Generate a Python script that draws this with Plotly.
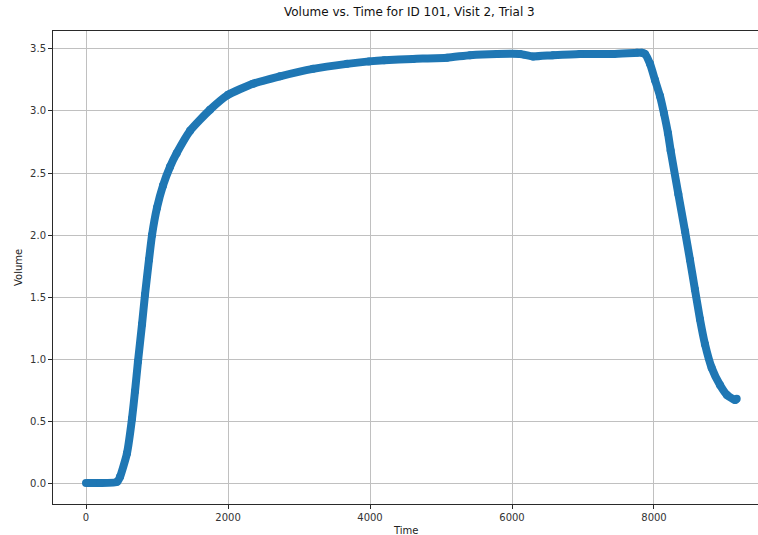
import plotly.graph_objects as go

# Sampled trial recording: time (ms) and volume
time_ms = [0, 200, 437, 479, 577, 648, 690, 732, 789, 831, 887, 930, 1000, 1085,
           1183, 1277, 1465, 1746, 2000, 2352, 2732, 3197, 3676, 3986, 4200, 4606,
           5085, 5408, 5789, 6113, 6296, 6577, 6958, 7423, 7761, 7826, 7873, 7944,
           8014, 8085, 8141, 8197, 8235, 8343, 8437, 8507, 8577, 8648, 8718, 8812,
           8930, 9028, 9141, 9165]
volume = [0.00, 0.00, 0.01, 0.05, 0.24, 0.52, 0.74, 0.98, 1.28, 1.52, 1.80, 2.00,
          2.22, 2.40, 2.55, 2.66, 2.84, 3.01, 3.13, 3.22, 3.28, 3.34, 3.38, 3.40,
          3.41, 3.42, 3.43, 3.45, 3.46, 3.46, 3.44, 3.45, 3.46, 3.46, 3.47, 3.47,
          3.46, 3.38, 3.25, 3.12, 2.98, 2.82, 2.68, 2.33, 2.03, 1.80, 1.56, 1.32,
          1.12, 0.93, 0.79, 0.71, 0.67, 0.68]

x_ticks = [0, 2000, 4000, 6000, 8000]
y_ticks = [0.0, 0.5, 1.0, 1.5, 2.0, 2.5, 3.0, 3.5]

title_text = "Volume vs. Time for ID 101, Visit 2, Trial 3"
x_label = "Time"
y_label = "Volume"

W, H = 758, 535
FONT = "DejaVu Sans"
BLUE = "#1f77b4"

fig = go.Figure()
fig.add_trace(go.Scatter(
    x=time_ms, y=volume, mode="lines+markers",
    line=dict(color=BLUE, width=8, shape="spline", smoothing=0.5),
    marker=dict(color=BLUE, size=8),
    hoverinfo="x+y", showlegend=False,
))

axis_common = dict(
    showgrid=True, gridcolor="#c0c0c0", gridwidth=1,
    zeroline=False, showline=True, linecolor="#2a2a2a", linewidth=1,
    ticks="outside", ticklen=4, tickwidth=1, tickcolor="#2a2a2a",
    tickfont=dict(family=FONT, size=10, color="#333333"),
)

fig.update_layout(
    width=W, height=H,
    margin=dict(l=53, r=0, t=31, b=31),
    paper_bgcolor="white", plot_bgcolor="white",
    font=dict(family=FONT, color="#222222"),
    xaxis=dict(range=[-465, 9465], tickmode="array", tickvals=x_ticks,
               ticktext=[str(v) for v in x_ticks], mirror=True, **axis_common),
    yaxis=dict(range=[-0.169, 3.645], tickmode="array", tickvals=y_ticks,
               ticktext=[f"{v:.1f}" for v in y_ticks], **axis_common),
    annotations=[
        dict(text=title_text, xref="paper", yref="paper", x=(410 - 53) / (W - 53),
             y=1 + 19 / 473, xanchor="center", yanchor="middle", showarrow=False,
             font=dict(family=FONT, size=12, color="#111111")),
        dict(text=x_label, xref="paper", yref="paper", x=(405 - 53) / (W - 53),
             y=-26 / 473, xanchor="center", yanchor="middle", showarrow=False,
             font=dict(family=FONT, size=10, color="#222222")),
        dict(text=y_label, xref="paper", yref="paper", x=-35 / (W - 53),
             y=(504 - 268) / 473, xanchor="center", yanchor="middle", showarrow=False,
             textangle=-90, font=dict(family=FONT, size=10, color="#222222")),
    ],
)

fig.write_html("out.html")
